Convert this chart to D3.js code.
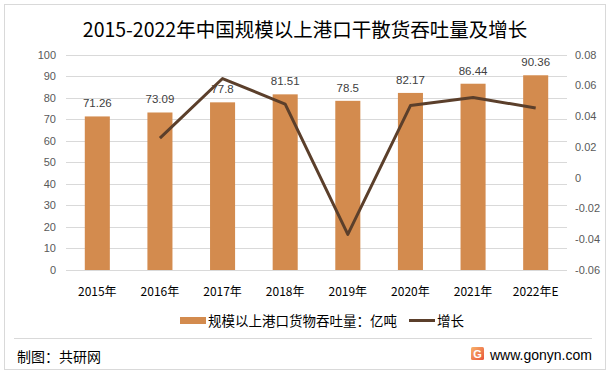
<!DOCTYPE html>
<html>
<head>
<meta charset="utf-8">
<script src="https://cdn.jsdelivr.net/npm/d3@7"></script>
<style>
  body { margin: 0; background: #fff; }
  svg { display: block; }
</style>
</head>
<body>
<svg id="chart" width="615" height="375"></svg>
<script>
const years = ['2015年', '2016年', '2017年', '2018年', '2019年', '2020年', '2021年', '2022年E']
const volume = [71.26, 73.09, 77.8, 81.51, 78.5, 82.17, 86.44, 90.36]
const growth = [null, 0.0257, 0.0644, 0.0477, -0.0369, 0.0468, 0.052, 0.0453]
const leftTicks = [0, 10, 20, 30, 40, 50, 60, 70, 80, 90, 100]
const rightTicks = [-0.06, -0.04, -0.02, 0, 0.02, 0.04, 0.06, 0.08]

const barColor = '#d38b4e'
const lineColor = '#5b3f2b'
const cjk = '"Noto Sans CJK SC", "Noto Sans", sans-serif'
const latin = '"Liberation Sans", "Noto Sans CJK SC", sans-serif'

const svg = d3.select('#chart')

// outer frame
svg.append('rect')
    .attr('x', 4.5).attr('y', 4.5)
    .attr('width', 601).attr('height', 365)
    .attr('fill', '#fff')
    .attr('stroke', '#d9d9d9')

svg.append('text')
    .attr('x', 305).attr('y', 37)
    .attr('text-anchor', 'middle')
    .attr('font-family', cjk)
    .attr('font-size', 19.5)
    .attr('fill', '#000')
    .text('2015-2022年中国规模以上港口干散货吞吐量及增长')

const x = d3.scaleBand().domain(years).range([66, 567]).paddingInner(0.6).paddingOuter(0.3)
const y = d3.scaleLinear().domain([0, 100]).range([270, 54.5])
const y2 = d3.scaleLinear().domain([-0.06, 0.08]).range([270, 54.5])

// gridlines
svg.append('g')
    .selectAll('line')
    .data(leftTicks)
    .enter()
    .append('line')
    .attr('x1', 66).attr('x2', 567)
    .attr('y1', d => Math.round(y(d)) + 0.5)
    .attr('y2', d => Math.round(y(d)) + 0.5)
    .attr('stroke', '#d9d9d9')

// left axis
const leftAxis = svg.append('g')
    .attr('transform', 'translate(56,0)')
    .call(d3.axisLeft(y).tickValues(leftTicks).tickSize(0).tickPadding(0))
leftAxis.select('.domain').remove()
leftAxis.selectAll('text')
    .attr('font-family', latin).attr('font-size', 11).attr('fill', '#595959')

// right axis
const rightAxis = svg.append('g')
    .attr('transform', 'translate(575,0)')
    .call(d3.axisRight(y2).tickValues(rightTicks).tickSize(0).tickPadding(0)
        .tickFormat(d => d === 0 ? '0' : d3.format('.2f')(d).replace('−', '-')))
rightAxis.select('.domain').remove()
rightAxis.selectAll('text')
    .attr('font-family', latin).attr('font-size', 11).attr('fill', '#595959')

// bars
svg.append('g')
    .selectAll('rect')
    .data(volume)
    .enter()
    .append('rect')
    .attr('x', (d, i) => x(years[i]))
    .attr('y', d => y(d))
    .attr('width', x.bandwidth())
    .attr('height', d => y(0) - y(d))
    .attr('fill', barColor)

// value labels
svg.append('g')
    .selectAll('text')
    .data(volume)
    .enter()
    .append('text')
    .attr('x', (d, i) => x(years[i]) + x.bandwidth() / 2)
    .attr('y', d => y(d) - 9)
    .attr('text-anchor', 'middle')
    .attr('font-family', latin)
    .attr('font-size', 11.5)
    .attr('fill', '#404040')
    .text(d => d)

// growth line
const line = d3.line()
    .defined(d => d !== null)
    .x((d, i) => x(years[i]) + x.bandwidth() / 2)
    .y(d => y2(d))

svg.append('path')
    .datum(growth)
    .attr('d', line)
    .attr('fill', 'none')
    .attr('stroke', lineColor)
    .attr('stroke-width', 3)
    .attr('stroke-linejoin', 'round')

// x labels
svg.append('g')
    .selectAll('text')
    .data(years)
    .enter()
    .append('text')
    .attr('x', d => x(d) + x.bandwidth() / 2)
    .attr('y', 296)
    .attr('text-anchor', 'middle')
    .attr('font-family', cjk)
    .attr('font-size', 12)
    .attr('fill', '#000')
    .text(d => d)

// legend
const legend = svg.append('g').attr('font-family', cjk).attr('font-size', 13.5).attr('fill', '#000')
legend.append('rect').attr('x', 180).attr('y', 317).attr('width', 26).attr('height', 7).attr('fill', barColor)
legend.append('text').attr('x', 208).attr('y', 326).text('规模以上港口货物吞吐量：亿吨')
legend.append('line').attr('x1', 409).attr('x2', 435).attr('y1', 320.5).attr('y2', 320.5)
    .attr('stroke', lineColor).attr('stroke-width', 3)
legend.append('text').attr('x', 437).attr('y', 326).text('增长')

// footer
svg.append('line')
    .attr('x1', 14).attr('x2', 592)
    .attr('y1', 338.5).attr('y2', 338.5)
    .attr('stroke', '#d9d9d9')

svg.append('text')
    .attr('x', 17).attr('y', 362)
    .attr('font-family', cjk)
    .attr('font-size', 14)
    .attr('fill', '#000')
    .text('制图：共研网')

const grad = svg.append('defs').append('linearGradient')
    .attr('id', 'logoGrad').attr('x1', 0).attr('y1', 0).attr('x2', 1).attr('y2', 1)
grad.append('stop').attr('offset', 0).attr('stop-color', '#f8b26a')
grad.append('stop').attr('offset', 1).attr('stop-color', '#e8553a')

svg.append('rect')
    .attr('x', 471).attr('y', 347).attr('width', 13).attr('height', 13)
    .attr('rx', 1.5)
    .attr('fill', 'url(#logoGrad)')
svg.append('text')
    .attr('x', 477.5).attr('y', 358)
    .attr('text-anchor', 'middle')
    .attr('font-family', latin)
    .attr('font-weight', 'bold')
    .attr('font-size', 11)
    .attr('fill', '#fff')
    .text('G')

svg.append('text')
    .attr('x', 490).attr('y', 360)
    .attr('font-family', latin)
    .attr('font-size', 14)
    .attr('fill', '#000')
    .text('www.gonyn.com')
</script>
</body>
</html>
